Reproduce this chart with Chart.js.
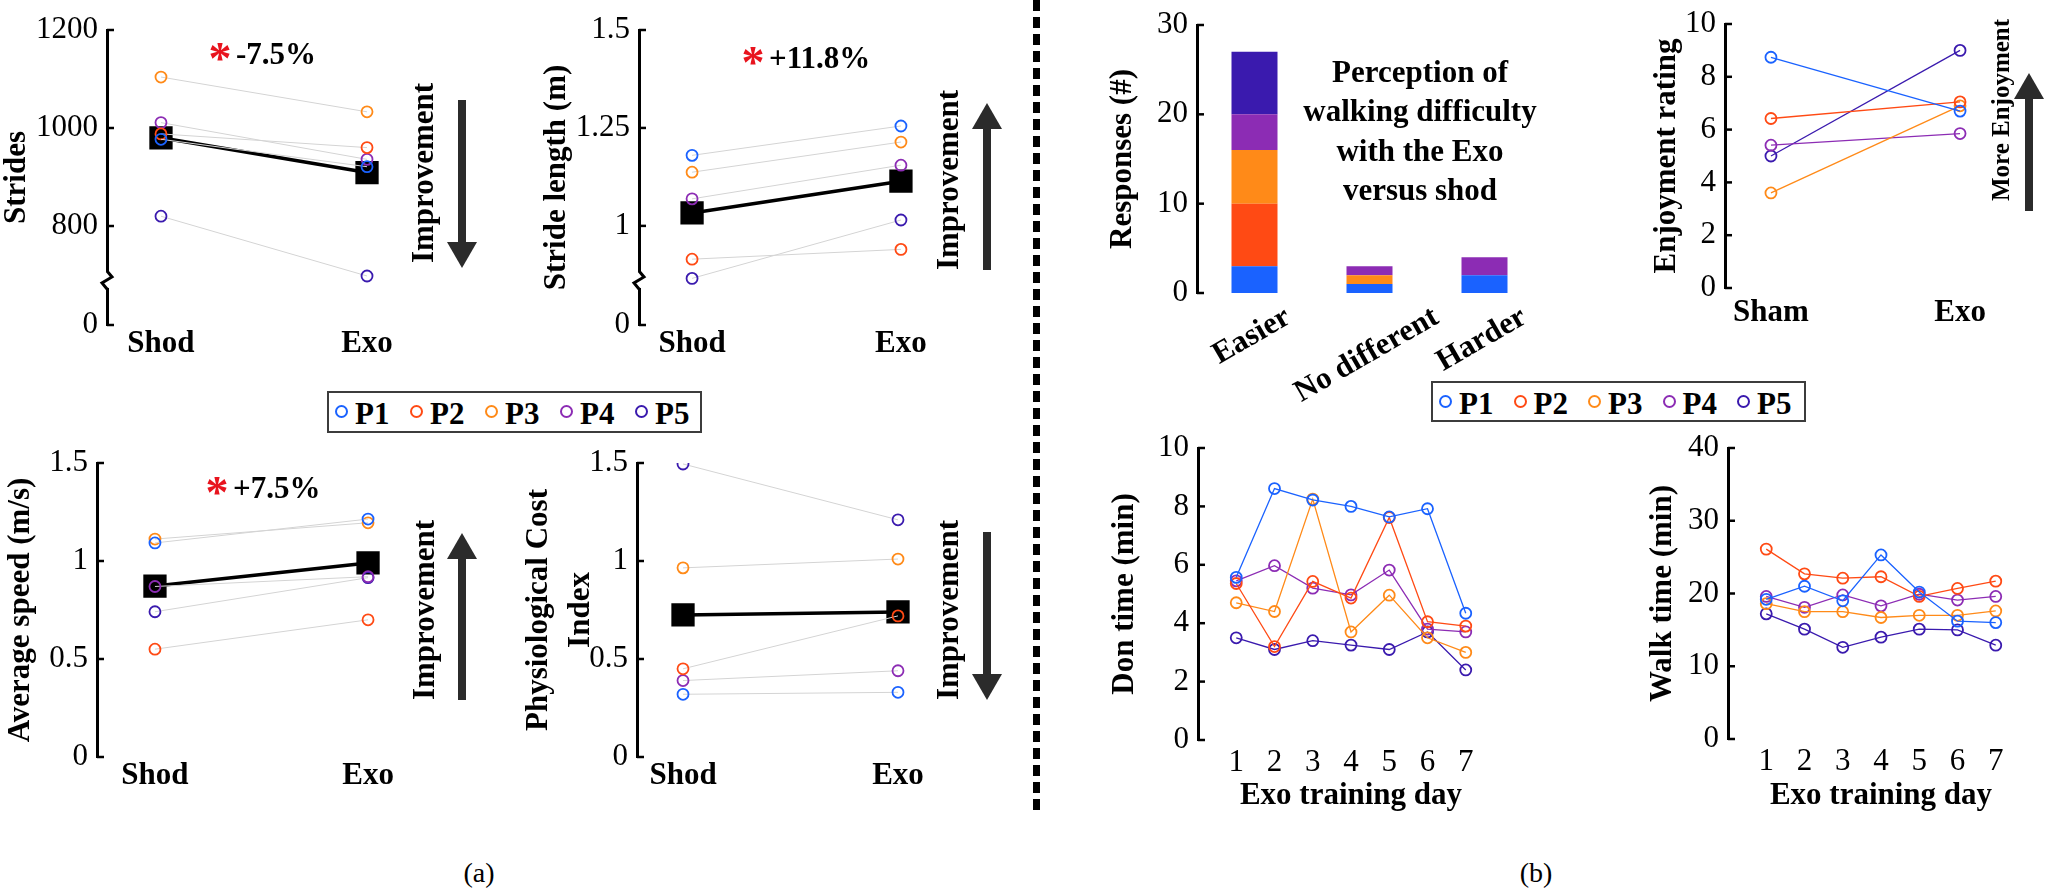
<!DOCTYPE html>
<html><head><meta charset="utf-8">
<script src="https://cdn.jsdelivr.net/npm/chart.js@4.4.1/dist/chart.umd.min.js"></script>
<style>
html,body{margin:0;padding:0;background:#fff;overflow:hidden;}
#fig{position:relative;width:2048px;height:893px;overflow:hidden;background:#fff;font-family:'Liberation Serif','Times New Roman',serif;}
.t{position:absolute;white-space:nowrap;color:#000;line-height:1;}
</style></head><body><div id="fig"></div>
<script>
// ---------------- DATA ----------------
const participants = ['P1','P2','P3','P4','P5'];
const conditions = ['Shod','Exo'];
const enjoyConditions = ['Sham','Exo'];
const responseCategories = ['Easier','No different','Harder'];
const days = [1,2,3,4,5,6,7];

const stridesShod = [977, 988, 1104, 1011, 820];
const stridesExo  = [921, 960, 1033, 936, 698];
const stridesMean = [980, 909];
const stridesTicks = [800, 1000, 1200];

const strideLenShod = [1.18, 0.915, 1.137, 1.069, 0.866];
const strideLenExo  = [1.255, 0.94, 1.214, 1.155, 1.015];
const strideLenMean = [1.033, 1.114];
const strideLenTicks = [1, 1.25, 1.5];

const speedShod = [1.092, 0.55, 1.112, 0.87, 0.741];
const speedExo  = [1.214, 0.70, 1.195, 0.92, 0.915];
const speedMean = [0.872, 0.99];

const pciShod = [0.32, 0.45, 0.965, 0.39, 1.495];
const pciExo  = [0.33, 0.72, 1.01, 0.44, 1.21];
const pciMean = [0.725, 0.74];

const responsesP1 = [3, 1, 2];
const responsesP2 = [7, 0, 0];
const responsesP3 = [6, 1, 0];
const responsesP4 = [4, 1, 2];
const responsesP5 = [7, 0, 0];

const enjoySham = [8.74, 6.42, 3.6, 5.41, 5.0];
const enjoyExo  = [6.7, 7.05, 6.9, 5.85, 9.0];

const donP1 = [5.57, 8.61, 8.22, 8.0, 7.64, 7.92, 4.34];
const donP2 = [5.36, 3.2, 5.43, 4.86, 7.62, 4.05, 3.9];
const donP3 = [4.7, 4.4, 8.25, 3.7, 4.96, 3.5, 3.0];
const donP4 = [5.45, 5.97, 5.2, 4.97, 5.82, 3.8, 3.7];
const donP5 = [3.5, 3.1, 3.4, 3.25, 3.1, 3.7, 2.4];

const walkP1 = [19.2, 21.0, 19.0, 25.3, 20.2, 16.2, 16.0];
const walkP2 = [26.1, 22.7, 22.1, 22.3, 19.6, 20.7, 21.7];
const walkP3 = [18.6, 17.5, 17.5, 16.7, 17.0, 17.0, 17.6];
const walkP4 = [19.6, 18.1, 19.8, 18.3, 19.9, 19.1, 19.6];
const walkP5 = [17.2, 15.1, 12.6, 14.0, 15.1, 15.0, 12.9];

// ---------------- STYLE ----------------
const seriesColors = ['#1a62ff','#ff4a14','#ff8a18','#8c2cb4','#3a1aae'];
const responseCounts = [responsesP1, responsesP2, responsesP3, responsesP4, responsesP5];
const donSeries = [donP1, donP2, donP3, donP4, donP5];
const walkSeries = [walkP1, walkP2, walkP3, walkP4, walkP5];

Chart.defaults.font.family = "'Liberation Serif','Times New Roman',serif";
Chart.defaults.font.size = 31;
Chart.defaults.color = '#000';

const inTicks = {
  id: 'inTicks',
  afterDraw(chart, args, opts) {
    const y = chart.scales.y, a = chart.chartArea, ctx = chart.ctx;
    ctx.save();
    ctx.strokeStyle = '#000';
    ctx.lineWidth = 2.5;
    y.ticks.forEach(t => {
      const py = y.getPixelForValue(t.value);
      ctx.beginPath(); ctx.moveTo(a.left, py); ctx.lineTo(a.left + 7, py); ctx.stroke();
    });
    if (opts && opts.breakAt != null) {
      const py = y.getPixelForValue(opts.breakAt), x = a.left;
      ctx.fillStyle = '#fff';
      ctx.fillRect(x - 5, py - 8, 10, 16);
      ctx.lineWidth = 3;
      ctx.beginPath();
      ctx.moveTo(x, py - 9); ctx.lineTo(x + 5, py - 3); ctx.lineTo(x - 5, py + 3); ctx.lineTo(x, py + 9);
      ctx.stroke();
    }
    ctx.restore();
  }
};
Chart.register(inTicks);

const P = 40;
const fig = document.getElementById('fig');
function panel(area, yW, xH, config) {
  const c = document.createElement('canvas');
  const left = area.l - yW - P, top = area.t - P;
  const w = area.r + P - left, h = area.b + xH + P - top;
  c.width = w; c.height = h;
  c.style.cssText = `position:absolute;left:${left}px;top:${top}px;width:${w}px;height:${h}px;`;
  fig.appendChild(c);
  const o = config.options;
  o.responsive = false; o.animation = false; o.events = [];
  o.layout = {padding: P};
  o.plugins = Object.assign({legend:{display:false}, tooltip:{enabled:false}}, o.plugins || {});
  o.scales.x.afterFit = s => { s.height = xH; };
  o.scales.y.afterFit = s => { s.width = yW; };
  const ch = new Chart(c, config);
  ch.$left = left; ch.$top = top;
  return ch;
}

function yAxis(o) {
  const ax = {
    type: 'linear', min: o.min, max: o.max,
    grid: {display:false, drawTicks:false},
    border: {display:true, width:3, color:'#000'},
    ticks: {padding: 9, autoSkip: false, callback: v => String(v)},
    title: {display:true, text:o.title, font:{weight:'bold', lineHeight:o.lh || 1}, padding:{top:o.tpad, bottom:0}}
  };
  if (o.step) ax.ticks.stepSize = o.step;
  if (o.tickVals) {
    ax.afterBuildTicks = s => { s.ticks = o.tickVals.map(v => ({value:v})); };
    ax.ticks.callback = (v, i) => o.tickLabels[i];
  }
  return ax;
}
function xCond(labels, min, max, pad) {
  return {
    type:'linear', min, max,
    grid:{display:false, drawTicks:false}, border:{display:false},
    afterBuildTicks: s => { s.ticks = labels.map((c, j) => ({value:j + 1})); },
    ticks:{callback:(v, i) => labels[i], font:{weight:'bold'}, padding:pad, maxRotation:0, minRotation:0, autoSkip:false}
  };
}
function xDays(title) {
  return {
    type:'linear', min:0, max:8,
    grid:{display:false, drawTicks:false}, border:{display:false},
    afterBuildTicks: s => { s.ticks = days.map(d => ({value:d})); },
    ticks:{callback:v => String(v), padding:4, maxRotation:0, minRotation:0, autoSkip:false},
    title:{display:true, text:title, font:{weight:'bold', lineHeight:1}, padding:{top:0, bottom:4}}
  };
}
function prePostData(shod, exo, mean) {
  const ds = participants.map((p, i) => ({
    label:p, data:conditions.map((c, j) => ({x:j + 1, y:[shod, exo][j][i]})),
    borderColor:'#d4d4d4', borderWidth:1, pointBorderColor:seriesColors[i],
    pointBackgroundColor:'rgba(0,0,0,0)', pointRadius:5.5, pointBorderWidth:1.8, order:1
  }));
  ds.push({label:'Mean', data:conditions.map((c, j) => ({x:j + 1, y:mean[j]})),
    borderColor:'#000', borderWidth:3.5, pointStyle:'rect', pointRadius:14,
    pointBackgroundColor:'#000', pointBorderColor:'#000', order:2});
  return {datasets: ds};
}
function seriesData(xs, series) {
  return {datasets: participants.map((p, i) => ({
    label:p, data:xs.map((x, j) => ({x, y:series[i][j]})),
    borderColor:seriesColors[i], borderWidth:1.3, pointBorderColor:seriesColors[i],
    pointBackgroundColor:'rgba(0,0,0,0)', pointRadius:5.5, pointBorderWidth:1.8
  }))};
}

// Strides
panel({l:107, t:30, r:421, b:325}, 107, 60, {
  type:'line', data:prePostData(stridesShod, stridesExo, stridesMean),
  options:{plugins:{inTicks:{breakAt:690}}, scales:{
    x: xCond(conditions, 0.738, 2.262, 0),
    y: yAxis({min:598, max:1200, tickVals:[598].concat(stridesTicks), tickLabels:['0'].concat(stridesTicks.map(String)), title:'Strides', tpad:1.5})
  }}
});
// Stride length
panel({l:639, t:30, r:954, b:325}, 100, 60, {
  type:'line', data:prePostData(strideLenShod, strideLenExo, strideLenMean),
  options:{plugins:{inTicks:{breakAt:0.862}}, scales:{
    x: xCond(conditions, 0.746, 2.254, 0),
    y: yAxis({min:0.747, max:1.5, tickVals:[0.747].concat(strideLenTicks), tickLabels:['0','1','1.25','1.5'], title:'Stride length (m)', tpad:2.5})
  }}
});
// Average speed
panel({l:97, t:463, r:426, b:757}, 97, 60, {
  type:'line', data:prePostData(speedShod, speedExo, speedMean),
  options:{scales:{
    x: xCond(conditions, 0.728, 2.272, 0),
    y: yAxis({min:0, max:1.5, step:0.5, title:'Average speed (m/s)', tpad:5})
  }}
});
// PCI
panel({l:637, t:463, r:944, b:757}, 120, 60, {
  type:'line', data:prePostData(pciShod, pciExo, pciMean),
  options:{scales:{
    x: xCond(conditions, 0.786, 2.214, 0),
    y: yAxis({min:0, max:1.5, step:0.5, title:['Physiological Cost','Index'], lh:1.35, tpad:1})
  }}
});
// Responses
const barChart = panel({l:1197, t:25, r:1542, b:293}, 100, 140, {
  type:'bar',
  data:{labels:responseCategories, datasets:participants.map((p, i) => ({
    label:p, data:responseCounts[i], backgroundColor:seriesColors[i], borderWidth:0,
    barPercentage:0.4, categoryPercentage:1}))},
  options:{scales:{
    x:{stacked:true, grid:{display:false, drawTicks:false}, border:{display:false},
       ticks:{display:false}},
    y: Object.assign(yAxis({min:0, max:30, step:10, title:'Responses (#)', tpad:10}), {stacked:true})
  }}
});
// Enjoyment
panel({l:1725, t:24, r:2006, b:288}, 100, 60, {
  type:'line', data:seriesData([1, 2], participants.map((p, i) => [enjoySham[i], enjoyExo[i]])),
  options:{scales:{
    x: xCond(enjoyConditions, 0.757, 2.243, 6),
    y: yAxis({min:0, max:10, step:2, title:'Enjoyment rating', tpad:26})
  }}
});
// Don time
panel({l:1198, t:448, r:1504, b:740}, 100, 75, {
  type:'line', data:seriesData(days, donSeries),
  options:{scales:{
    x: xDays('Exo training day'),
    y: yAxis({min:0, max:10, step:2, title:'Don time (min)', tpad:11})
  }}
});
// Walk time
panel({l:1728, t:448, r:2034, b:739}, 100, 76, {
  type:'line', data:seriesData(days, walkSeries),
  options:{scales:{
    x: xDays('Exo training day'),
    y: yAxis({min:0, max:40, step:10, title:'Walk time (min)', tpad:19})
  }}
});

// ---------------- OVERLAYS ----------------
function txt(s, x, y, o) {
  o = o || {};
  const d = document.createElement('div');
  d.className = 't';
  d.textContent = s;
  const tr = o.rot ? 'translate(-50%,-50%) rotate(-90deg)' : (o.left ? 'translate(0,-50%)' : 'translate(-50%,-50%)');
  d.style.cssText += `left:${x}px;top:${y}px;font-size:${o.size || 31}px;font-weight:${o.bold === false ? 'normal' : 'bold'};color:${o.color || '#000'};transform:${tr};`;
  fig.appendChild(d);
  return d;
}
// rotated category labels of the bar chart, placed from the library's x scale
const ROT = 30 * Math.PI / 180;
responseCategories.forEach((c, i) => {
  const px = barChart.scales.x.getPixelForValue(i) + barChart.$left;
  const endY = barChart.chartArea.bottom + barChart.$top + 20;
  const d = document.createElement('div');
  d.className = 't';
  d.textContent = c;
  d.style.cssText += 'left:0;top:0;font-size:31px;font-weight:bold;visibility:hidden;';
  fig.appendChild(d);
  const w = d.offsetWidth;
  const ax = px - 4 + (w / 2) * Math.cos(ROT);
  d.style.left = ax + 'px';
  d.style.top = endY + 'px';
  d.style.transformOrigin = '0 0';
  d.style.transform = 'rotate(-30deg) translate(-100%,-50%)';
  d.style.visibility = 'visible';
});

function arrow(x, yTip, yTail) {
  const col = '#2b2b2b', headH = 26, headW = 30, shaftW = 8;
  const down = yTip > yTail;
  const s = document.createElement('div');
  const sTop = down ? yTail : yTip + headH - 1;
  const sBot = down ? yTip - headH + 1 : yTail;
  s.style.cssText = `position:absolute;left:${x - shaftW / 2}px;top:${sTop}px;width:${shaftW}px;height:${sBot - sTop}px;background:${col};`;
  fig.appendChild(s);
  const h = document.createElement('div');
  const hTop = down ? yTip - headH : yTip;
  h.style.cssText = `position:absolute;left:${x - headW / 2}px;top:${hTop}px;width:0;height:0;border-left:${headW / 2}px solid transparent;border-right:${headW / 2}px solid transparent;` +
    (down ? `border-top:${headH}px solid ${col};` : `border-bottom:${headH}px solid ${col};`);
  fig.appendChild(h);
}
function star(label, x, y) {
  txt('*', x, y + 6, {size:46, color:'#e8141e'});
  txt(label, x + 16, y, {left:true});
}
star('-7.5%', 220, 53);
star('+11.8%', 753, 57);
star('+7.5%', 217, 487);

txt('Improvement', 422, 173, {rot:true}); arrow(462, 268, 100);
txt('Improvement', 947, 180, {rot:true}); arrow(987, 103, 270);
txt('Improvement', 423, 610, {rot:true}); arrow(462, 533, 700);
txt('Improvement', 947, 610, {rot:true}); arrow(987, 700, 532);
txt('More Enjoyment', 2000, 110, {rot:true, size:25}); arrow(2029, 73, 211);

const per = document.createElement('div');
per.className = 't';
per.style.cssText += 'left:1420px;top:52px;transform:translate(-50%,0);text-align:center;font-size:31px;font-weight:bold;line-height:39.4px;';
per.innerHTML = 'Perception of<br>walking difficulty<br>with the Exo<br>versus shod';
fig.appendChild(per);

function legend(x, y, w, h, firstMarker, step) {
  const b = document.createElement('div');
  b.style.cssText = `position:absolute;left:${x}px;top:${y}px;width:${w - 4}px;height:${h - 4}px;border:2px solid #3c3c3c;background:#fff;`;
  fig.appendChild(b);
  participants.forEach((p, i) => {
    const cx = firstMarker + i * step, cy = y + h / 2;
    const m = document.createElement('div');
    m.style.cssText = `position:absolute;left:${cx - 7}px;top:${cy - 7}px;width:9px;height:9px;border:2.5px solid ${seriesColors[i]};border-radius:50%;`;
    fig.appendChild(m);
    txt(p, cx + 13, cy + 1, {left:true});
  });
}
legend(327, 391, 375, 42, 342, 75);
legend(1431, 381, 375, 41, 1446, 74.5);

// dashed divider
const dv = document.createElement('div');
dv.style.cssText = 'position:absolute;left:1033px;top:0;width:7px;height:815px;background:repeating-linear-gradient(to bottom,#000 0,#000 11px,transparent 11px,transparent 17px);';
fig.appendChild(dv);

txt('(a)', 479, 873, {size:28, bold:false});
txt('(b)', 1536, 873, {size:28, bold:false});
</script></body></html>
